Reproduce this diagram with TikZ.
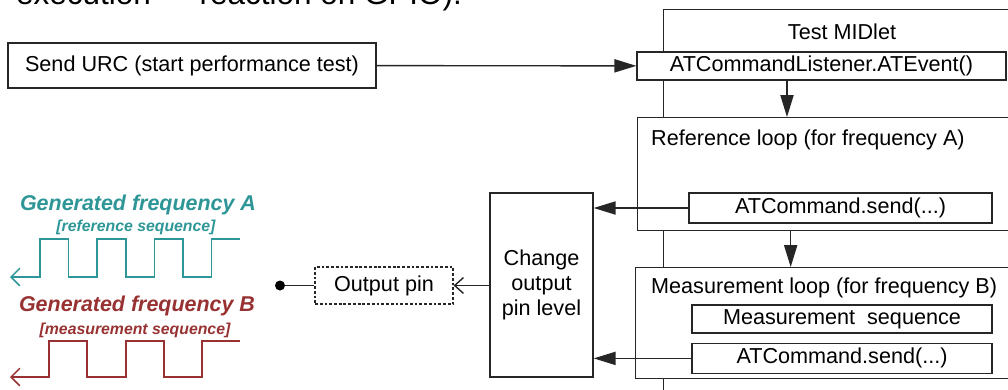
\documentclass[tikz,border=0pt]{standalone}
\usepackage{fontspec}
\setmainfont{Liberation Sans}
\usetikzlibrary{positioning, arrows.meta}

\definecolor{freqA}{HTML}{2E9696}
\definecolor{freqB}{HTML}{983232}

\begin{document}
\begin{tikzpicture}[
  x=0.02cm, y=-0.02cm,
  box/.style={draw=black!85, line width=0.8pt, rectangle, align=center, inner sep=0pt, fill=white, font=\fontsize{12.3}{14.2}\selectfont},
  loopbox/.style={box, anchor=north west},
  pinbox/.style={box, dash pattern=on 1.6pt off 1.1pt, line width=0.7pt},
  label/.style={font=\fontsize{12.3}{14.2}\selectfont},
  arrow/.style={-{Triangle[length=12.5pt, width=7.5pt]}, draw=black!85, line width=0.8pt},
  openarrow/.style={-{Straight Barb[length=5pt, width=9pt]}, draw=black!85, line width=0.8pt},
  wave/.style={{Straight Barb[length=5pt, width=10pt]}-, line width=0.9pt},
  wavetitle/.style={font=\fontsize{12.2}{14}\selectfont\bfseries\itshape},
  wavesub/.style={font=\fontsize{9}{11}\selectfont\bfseries\itshape}
]
\useasboundingbox (0,0) rectangle (1008,389);
\clip (0,0) rectangle (1008,389);

% Text of the page above
\node[anchor=base west, font=\fontsize{17.9}{20}\selectfont] (intro) at (10,4.5) {execution — reaction on GPIO).};

% Start
\node[box, minimum width=7.36cm, minimum height=0.9cm] (urc) at (192,65.5) {Send URC (start performance test)};

% Test MIDlet
\node[loopbox, minimum width=7.16cm, minimum height=7.82cm] (midlet) at (663,9) {};
\node[label] (midletlabel) at (842,32) {Test MIDlet};
\node[box, minimum width=7.38cm, minimum height=0.56cm] (event) at (821.5,66) {ATCommandListener.ATEvent()};

% Reference loop
\node[loopbox, minimum width=7.66cm, minimum height=2.26cm] (refloop) at (637,117) {};
\node[label, anchor=west] (reflabel) at (645,140) {Reference loop (for frequency A)};
\node[box, minimum width=6.06cm, minimum height=0.6cm] (refsend) at (840.5,208) {ATCommand.send(...)};

% Measurement loop
\node[loopbox, minimum width=7.7cm, minimum height=2.22cm] (measloop) at (635,267) {};
\node[label, anchor=west] (measlabel) at (645,288) {Measurement loop (for frequency B)};
\node[box, minimum width=6cm, minimum height=0.56cm] (measseq) at (842,319) {Measurement\ \ sequence};
\node[box, minimum width=6cm, minimum height=0.6cm, below=0.18cm of measseq] (meassend) {ATCommand.send(...)};

% Output side
\node[box, minimum width=2.06cm, minimum height=3.68cm] (change) at (541.5,285) {Change\\output\\pin level};
\node[pinbox, minimum width=2.76cm, minimum height=0.74cm] (pin) at (384,285.5) {Output pin};
\node[circle, fill=black, inner sep=0pt, minimum size=0.2cm] (dot) at (280,285.5) {};

% Arrows
\draw[arrow] (urc) -- (event);
\draw[arrow] ([xshift=-0.69cm]event.south) -- ([xshift=-0.69cm]event.south |- refloop.north);
\draw[arrow] ([xshift=-0.77cm]refloop.south) -- ([xshift=-0.77cm]refloop.south |- measloop.north);
\draw[arrow] (refsend.west) -- (refsend.west -| change.east);
\draw[arrow] (meassend.west) -- (meassend.west -| change.east);
\draw[openarrow] (change.west |- pin.east) -- (pin.east);
\draw[draw=black!85, line width=0.8pt] (pin.west) -- (dot);

% Generated frequencies
\node[wavetitle, text=freqA] (titleA) at (138,205) {Generated frequency A};
\node[wavesub, text=freqA] (subA) at (136,227) {[reference sequence]};
\draw[wave, freqA] (10,277) -- (40,277) -- (40,239) -- (68.6,239) -- (68.6,277) -- (97.2,277) -- (97.2,239)
  -- (125.8,239) -- (125.8,277) -- (154.4,277) -- (154.4,239) -- (183,239) -- (183,277)
  -- (211.6,277) -- (211.6,239) -- (240,239);

\node[wavetitle, text=freqB] (titleB) at (137,306) {Generated frequency B};
\node[wavesub, text=freqB] (subB) at (135,330) {[measurement sequence]};
\draw[wave, freqB] (10,377) -- (49,377) -- (49,341) -- (87,341) -- (87,377) -- (126,377) -- (126,341)
  -- (164,341) -- (164,377) -- (202,377) -- (202,341) -- (240,341);

\end{tikzpicture}
\end{document}
